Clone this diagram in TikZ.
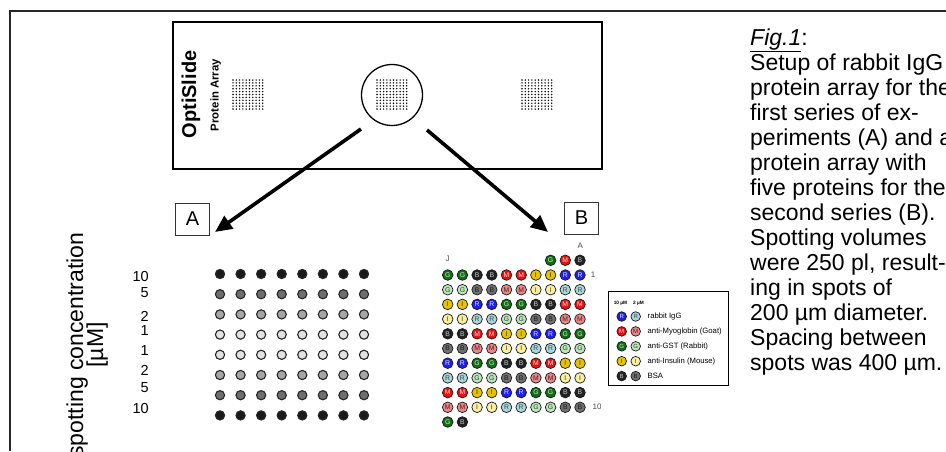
\documentclass[tikz,border=0pt]{standalone}
\usepackage{fontspec}
\setmainfont{Liberation Sans}
\usetikzlibrary{arrows.meta}

% spot colours: c = fill, t = letter; d = 10 uM (dark), l = 2 uM (light)
\definecolor{cRd}{HTML}{1E1EEE}\definecolor{tRd}{HTML}{E6E6FF}
\definecolor{cMd}{HTML}{E61212}\definecolor{tMd}{HTML}{FFE0E0}
\definecolor{cGd}{HTML}{0E6E12}\definecolor{tGd}{HTML}{D8F0D8}
\definecolor{cId}{HTML}{E6C200}\definecolor{tId}{HTML}{3A3000}
\definecolor{cBd}{HTML}{202224}\definecolor{tBd}{HTML}{C8C8C8}
\definecolor{cRl}{HTML}{A8D6DA}\definecolor{tRl}{HTML}{404848}
\definecolor{cMl}{HTML}{E88888}\definecolor{tMl}{HTML}{502020}
\definecolor{cGl}{HTML}{BEE6BE}\definecolor{tGl}{HTML}{304030}
\definecolor{cIl}{HTML}{F8F0A0}\definecolor{tIl}{HTML}{404020}
\definecolor{cBl}{HTML}{707070}\definecolor{tBl}{HTML}{1A1A1A}
% grey levels of the concentration series
\definecolor{aK}{HTML}{1C1A18}
\definecolor{aD}{HTML}{6E6E6E}
\definecolor{aM}{HTML}{A6A6A6}
\definecolor{aL}{HTML}{E2E2E2}

\begin{document}
\begin{tikzpicture}[x=1pt,y=-1pt,
  every node/.style={inner sep=0pt},
  frameline/.style={line width=1.4pt, black!85},
  slidebox/.style={draw, line width=2pt, minimum width=429pt, minimum height=147pt},
  lens/.style={circle, draw, line width=1.3pt, minimum size=61pt},
  bigarrow/.style={line width=3.6pt, -{Triangle[length=17pt,width=15pt]}},
  labbox/.style={draw=black!80, line width=0.8pt, minimum width=34pt, minimum height=32pt, font=\fontsize{20}{20}\selectfont},
  adot/.style={circle, draw=black!85, line width=1.1pt, minimum size=9.2pt},
  bdot/.style={circle, draw=black!90, line width=0.7pt, minimum size=10.6pt, font=\fontsize{6.8}{6.8}\selectfont},
  ldot/.style={bdot, minimum size=9.6pt, font=\fontsize{6}{6}\selectfont},
  gridlbl/.style={font=\fontsize{8}{8}\selectfont, text=black!70},
  conc/.style={font=\fontsize{14.5}{14.5}\selectfont, anchor=east},
  captext/.style={font=\fontsize{23}{25}\selectfont, anchor=base west},
]
\useasboundingbox (0,0) rectangle (946,451);
\clip (0,0) rectangle (946,451);

% open frame
\draw[frameline] (10,451) -- (10,11) -- (946,11);

% slide with three arrays
\node[slidebox] (slide) at (387.5,95.5) {};
\node[rotate=90, anchor=base, font=\fontsize{20}{20}\selectfont\bfseries] (brand) at (196,94.5) {OptiSlide};
\node[rotate=90, anchor=base, font=\fontsize{11.4}{11.4}\selectfont\bfseries] (brandsub) at (218.5,95) {Protein Array};
\foreach \gx in {233,377,522}
  \foreach \i in {0,...,9}
    \foreach \j in {0,...,10}
      \fill ({\gx+\i*3.3},{80+\j*2.9}) circle (0.8);
\node[lens] (lens) at (392,95) {};

% arrows to the two layouts
\coordinate (fromA) at (361,129);
\coordinate (toA) at (215,232);
\coordinate (fromB) at (427,130);
\coordinate (toB) at (548,232);
\draw[bigarrow] (fromA) -- (toA);
\draw[bigarrow] (fromB) -- (toB);

\node[labbox] (boxA) at (192.5,219) {A};
\node[labbox] (boxB) at (581.5,218) {B};

% layout A: concentration series
\node[rotate=90, anchor=base, font=\fontsize{23}{23}\selectfont] (ylab1) at (83,345) {spotting concentration};
\node[rotate=90, anchor=base, font=\fontsize{23}{23}\selectfont] (ylab2) at (103,345) {[µM]};
\foreach \v/\y [count=\k] in {10/277,5/292.3,2/316.7,1/330.7,1/350.7,2/370,5/387.3,10/409}
  \node[conc] (cl\k) at (149,\y) {\v};
\foreach \r/\col in {1/aK,2/aD,3/aM,4/aL,5/aL,6/aM,7/aD,8/aK}
  \foreach \c in {0,...,7}
    \node[adot, fill=\col] (a-\r-\c) at ({220+\c*20.57},{274+(\r-1)*20.2}) {};

% layout B: five proteins at two concentrations
\foreach \r/\S/\lst in {
  1/d/{G,G,B,B,M,M,I,I,R,R},
  2/l/{G,G,B,B,M,M,I,I,R,R},
  3/d/{I,I,R,R,G,G,B,B,M,M},
  4/l/{I,I,R,R,G,G,B,B,M,M},
  5/d/{B,B,M,M,I,I,R,R,G,G},
  6/l/{B,B,M,M,I,I,R,R,G,G},
  7/d/{R,R,G,G,B,B,M,M,I,I},
  8/l/{R,R,G,G,B,B,M,M,I,I},
  9/d/{M,M,I,I,R,R,G,G,B,B},
  10/l/{M,M,I,I,R,R,G,G,B,B}}
  \foreach \L [count=\c] in \lst
    \node[bdot, fill=c\L\S, text=t\L\S] (b-\r-\c) at ({447.7+(\c-1)*14.7},{275+(\r-1)*14.7}) {\L};
\foreach \L/\c in {G/8,M/9,B/10}
  \node[bdot, fill=c\L d, text=t\L d] (b-0-\c) at ({447.7+(\c-1)*14.7},260.3) {\L};
\foreach \L/\c in {G/1,B/2}
  \node[bdot, fill=c\L d, text=t\L d] (b-11-\c) at ({447.7+(\c-1)*14.7},422) {\L};
\node[gridlbl] (colA) at (580.3,246) {A};
\node[gridlbl] (colJ) at (447.7,259) {J};
\node[gridlbl] (row1) at (593,275) {1};
\node[gridlbl] (row10) at (597,407) {10};

% legend
\node[draw, line width=0.8pt, minimum width=120pt, minimum height=94pt, anchor=north west] (legend) at (608,291) {};
\node[font=\fontsize{4.8}{4.8}\selectfont\bfseries] (hdr1) at (620.5,303) {10 µM};
\node[font=\fontsize{4.8}{4.8}\selectfont\bfseries] (hdr2) at (638.5,303) {2 µM};
\foreach \L/\txt [count=\i] in {R/{rabbit IgG},M/{anti-Myoglobin (Goat)},G/{anti-GST (Rabbit)},I/{anti-Insulin (Mouse)},B/{BSA}}{
  \node[ldot, fill=c\L d, text=t\L d] (ld\i) at (621.7,{316.5+(\i-1)*14.9}) {\L};
  \node[ldot, fill=c\L l, text=t\L l] (ll\i) at (635.7,{316.5+(\i-1)*14.9}) {\L};
  \node[anchor=west, font=\fontsize{7.7}{7.7}\selectfont] (lt\i) at (647.5,{316.5+(\i-1)*14.9}) {\txt};
}

% caption
\node[captext] (cap1) at (750,45) {\underline{\textit{Fig.1}}:};
\foreach \t [count=\i from 2] in {
  {Setup of rabbit IgG},
  {protein array for the},
  {first series of ex-},
  {periments (A) and a},
  {protein array with},
  {five proteins for the},
  {second series (B).},
  {Spotting volumes},
  {were 250 pl, result-},
  {ing in spots of},
  {200 µm diameter.},
  {Spacing between},
  {spots was 400 µm.}}
  \node[captext] (cap\i) at (750,{45+(\i-1)*25}) {\t};
\end{tikzpicture}
\end{document}
